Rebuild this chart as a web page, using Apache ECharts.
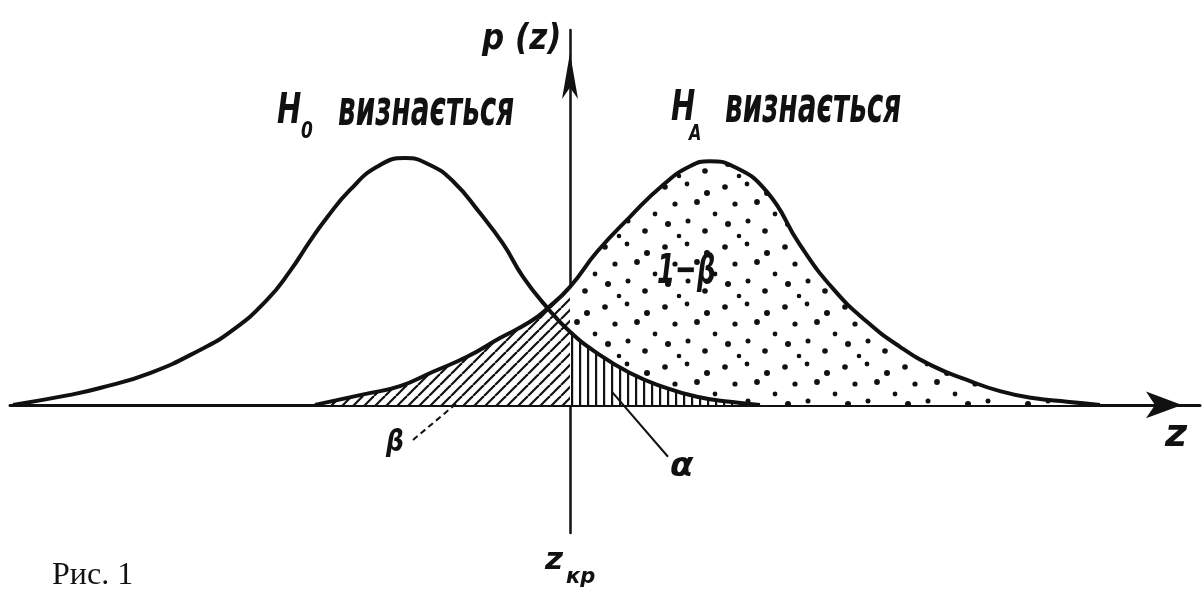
<!DOCTYPE html>
<html>
<head>
<meta charset="utf-8">
<title>Рис. 1</title>
<script src="https://cdn.jsdelivr.net/npm/echarts@6/dist/echarts.min.js"></script>
<style>
    html, body { margin: 0; padding: 0; background: #fff; }
    #chart { width: 1202px; height: 591px; }
</style>
</head>
<body>
<div id="chart"></div>
<script>
// curves: z (z_kp = 0), p(z)
var h0Curve = [
    [-5.57, 0.000], [-5.00, 0.016], [-4.70, 0.027], [-4.20, 0.051], [-3.70, 0.088],
    [-3.37, 0.120], [-3.03, 0.168], [-2.80, 0.214], [-2.60, 0.262], [-2.43, 0.300],
    [-2.20, 0.344], [-1.93, 0.381], [-1.65, 0.395], [-1.40, 0.384], [-1.17, 0.358],
    [-0.90, 0.307], [-0.67, 0.258], [-0.47, 0.205], [-0.23, 0.156], [0.00, 0.117],
    [0.27, 0.083], [0.60, 0.051], [0.93, 0.029], [1.27, 0.013], [1.60, 0.005],
    [1.90, 0.000]
];
var haCurve = [
    [-2.55, 0.000], [-2.03, 0.018], [-1.70, 0.030], [-1.37, 0.053], [-1.03, 0.077],
    [-0.70, 0.107], [-0.40, 0.133], [-0.23, 0.154], [0.00, 0.189], [0.27, 0.245],
    [0.60, 0.301], [0.93, 0.352], [1.20, 0.382], [1.40, 0.390], [1.63, 0.382],
    [1.97, 0.341], [2.30, 0.256], [2.63, 0.186], [2.97, 0.133], [3.30, 0.093],
    [3.63, 0.062], [3.97, 0.040], [4.30, 0.022], [4.63, 0.011], [4.97, 0.005],
    [5.30, 0.000]
];
// leader lines to the beta / alpha labels
var betaLeader = [[-1.57, -0.056], [-1.13, 0.003]];
var alphaLeader = [[0.42, 0.021], [0.98, -0.083]];

var ink = '#111';

function makePattern(w, h, draw) {
    var c = document.createElement('canvas');
    c.width = w;
    c.height = h;
    var ctx = c.getContext('2d');
    ctx.fillStyle = '#fff';
    ctx.fillRect(0, 0, w, h);
    ctx.fillStyle = ink;
    ctx.strokeStyle = ink;
    draw(ctx);
    return { image: c, repeat: 'repeat' };
}

var diagonalHatch = makePattern(11, 11, function (ctx) {
    ctx.lineWidth = 2.2;
    [-1, 0, 1].forEach(function (k) {
        ctx.beginPath();
        ctx.moveTo(k * 11, 11);
        ctx.lineTo(k * 11 + 11, 0);
        ctx.stroke();
    });
});

var verticalHatch = makePattern(8, 8, function (ctx) {
    ctx.fillRect(3, 0, 2.2, 8);
});

var dotSpots = [[5, 7, 2.8], [27, 4, 2.4], [47, 13, 3.0], [15, 24, 2.6], [37, 22, 2.9],
    [55, 34, 2.4], [8, 44, 3.0], [28, 41, 2.5], [45, 51, 2.8], [19, 56, 2.3]];
var dotFill = makePattern(60, 60, function (ctx) {
    dotSpots.forEach(function (d) {
        ctx.beginPath();
        ctx.arc(d[0], d[1], d[2], 0, Math.PI * 2);
        ctx.fill();
    });
});

function label(text, x, y, o) {
    return {
        type: 'text', x: x, y: y, z: 100, silent: true,
        scaleX: o.sx || 1, scaleY: o.sy || 1,
        style: {
            text: text, fill: ink,
            fontSize: o.size,
            fontFamily: o.family || 'DejaVu Sans',
            fontStyle: o.upright ? 'normal' : 'italic',
            fontWeight: o.bold ? 'bold' : 'normal',
            align: 'left', verticalAlign: 'middle'
        }
    };
}

function fill(data, pattern) {
    return {
        type: 'line', data: data, symbol: 'none', smooth: 0.5, silent: true,
        lineStyle: { width: 0 },
        areaStyle: { color: pattern, opacity: 1 }
    };
}

function curve(data, width, dashed) {
    return {
        type: 'line', data: data, symbol: 'none', smooth: dashed === undefined ? 0.5 : false,
        silent: true, z: 3,
        lineStyle: { color: ink, width: width, type: dashed ? [6, 4] : 'solid' }
    };
}

var chart = echarts.init(document.getElementById('chart'));
chart.setOption({
    animation: false,
    backgroundColor: '#fff',
    grid: { left: 10, right: 2, top: 30, bottom: 58 },
    xAxis: {
        type: 'value', min: -5.6, max: 6.3,
        axisLine: { onZero: true, symbol: ['none', 'arrow'], symbolSize: [20, 36], symbolOffset: [0, -18],
            lineStyle: { color: ink, width: 3 } },
        axisTick: { show: false }, axisLabel: { show: false }, splitLine: { show: false }
    },
    yAxis: {
        type: 'value', min: -0.205, max: 0.6,
        axisLine: { onZero: true, symbol: ['none', 'arrow'], symbolSize: [12, 46], symbolOffset: [0, -23],
            lineStyle: { color: ink, width: 2.5 } },
        axisTick: { show: false }, axisLabel: { show: false }, splitLine: { show: false }
    },
    series: [
        fill(haCurve.filter(function (p) { return p[0] >= 0; }), dotFill),
        fill(h0Curve.filter(function (p) { return p[0] >= 0; }), verticalHatch),
        fill(haCurve.filter(function (p) { return p[0] <= 0; }), diagonalHatch),
        curve(h0Curve, 4),
        curve(haCurve, 4),
        curve(betaLeader, 2, true),
        curve(alphaLeader, 2, false)
    ],
    graphic: [
        label('p (z)', 482, 40, { size: 31, sy: 1.15, bold: true }),
        label('H', 277, 112, { size: 29, sy: 1.5, bold: true }),
        label('0', 301, 132, { size: 17, sy: 1.3, bold: true }),
        label('визнається', 338, 112, { size: 31, sy: 1.6, bold: true, family: 'DejaVu Sans Condensed' }),
        label('H', 671, 109, { size: 29, sy: 1.5, bold: true }),
        label('A', 689, 135, { size: 16, sy: 1.3, bold: true }),
        label('визнається', 725, 109, { size: 31, sy: 1.6, bold: true, family: 'DejaVu Sans Condensed' }),
        label('1−β', 657, 272, { size: 26, sy: 1.6, bold: true }),
        label('β', 386, 443, { size: 25, sy: 1.2, bold: true }),
        label('α', 670, 467, { size: 34, bold: true }),
        label('z', 1165, 436, { size: 38, bold: true }),
        label('z', 545, 561, { size: 31, bold: true }),
        label('кр', 566, 578, { size: 21, bold: true }),
        label('Рис. 1', 52, 576, { size: 32, upright: true, family: 'Liberation Serif' })
    ]
});
</script>
</body>
</html>
